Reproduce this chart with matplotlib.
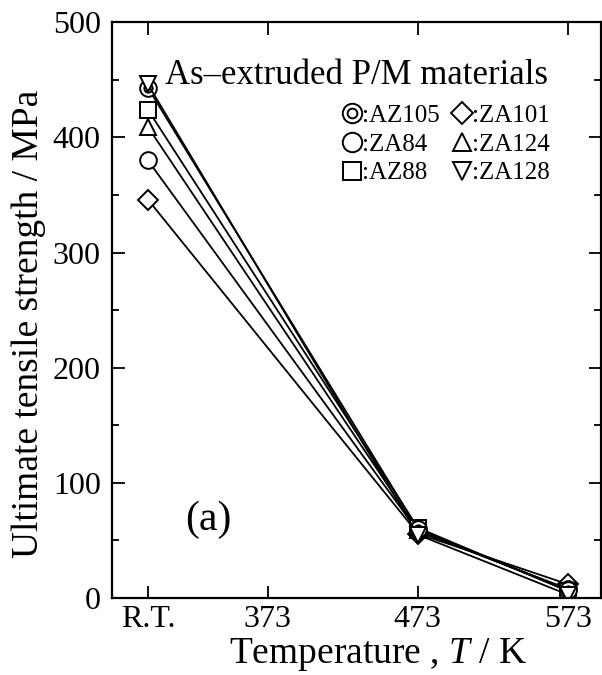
import numpy as np
import matplotlib.pyplot as plt
from matplotlib.lines import Line2D
from matplotlib.legend_handler import HandlerTuple
from matplotlib.ticker import MultipleLocator

plt.rcParams['font.family'] = ['Liberation Serif', 'DejaVu Serif']
plt.rcParams['mathtext.fontset'] = 'custom'
plt.rcParams['mathtext.it'] = 'Liberation Serif:italic'
plt.rcParams['mathtext.rm'] = 'Liberation Serif'

# test temperatures (R.T. taken as 293 K)
temps = [293, 473, 573]
tick_pos = [293, 373, 473, 573]
tick_lab = ['R.T.', '373', '473', '573']

# ultimate tensile strength, MPa
uts_az105 = [443, 60, 7]
uts_za84 = [380, 58, 8]
uts_az88 = [424, 61, 6]
uts_za101 = [346, 56, 12]
uts_za124 = [409, 59, 7]
uts_za128 = [446, 55, 3]

fig = plt.figure(figsize=(6.02, 6.75), dpi=100)
ax = fig.add_axes([0.186, 0.114, 0.812, 0.853])

lw = 1.3
ms = 12
mkw = dict(color='black', lw=lw, mfc='white', mec='black', mew=1.4, ms=ms)

ax.plot(temps, uts_za101, marker='D', **dict(mkw, ms=10))
ax.plot(temps, uts_za84, marker='o', **mkw)
ax.plot(temps, uts_za124, marker='^', **mkw)
ax.plot(temps, uts_az88, marker='s', **dict(mkw, ms=11))
ax.plot(temps, uts_az105, marker='o', **mkw)
ax.plot(temps, uts_az105, ls='none', marker='o', mfc='none', mec='black', mew=1.4, ms=6)
ax.plot(temps, uts_za128, marker='v', **mkw)

ax.set_xlim(269, 595)
ax.set_ylim(0, 500)
ax.set_xticks(tick_pos)
ax.set_xticklabels(tick_lab)
ax.yaxis.set_major_locator(MultipleLocator(100))
ax.yaxis.set_minor_locator(MultipleLocator(50))
ax.tick_params(which='both', direction='in', top=True, right=True,
               labelsize=23, width=1.3)
ax.tick_params(axis='y', pad=8)
ax.tick_params(axis='x', pad=5)
ax.tick_params(which='major', length=9)
ax.tick_params(which='minor', length=5)
for s in ax.spines.values():
    s.set_linewidth(1.6)

ax.set_xlabel('Temperature , $\\mathit{T}$ / K', fontsize=27)
ax.set_ylabel('Ultimate tensile strength / MPa', fontsize=27)
ax.xaxis.set_label_coords(0.544, -0.066)
ax.yaxis.set_label_coords(-0.135, 0.477)

ax.text(0.109, 0.908, 'As\u2013extruded P/M materials', transform=ax.transAxes,
        fontsize=25, ha='left', va='center')
ax.text(0.198, 0.136, '(a)', transform=ax.transAxes,
        fontsize=30, ha='center', va='center')

# legend, two columns
def mk(m, s=13):
    return Line2D([], [], ls='none', marker=m, mfc='white', mec='black', mew=1.4, ms=s)

dbl = (mk('o', 14), Line2D([], [], ls='none', marker='o', mfc='none', mec='black', mew=1.4, ms=7))
handles = [dbl, mk('o', 14), mk('s'), mk('D', 11), mk('^'), mk('v')]
labels = [':AZ105', ':ZA84', ':AZ88', ':ZA101', ':ZA124', ':ZA128']
leg = ax.legend(handles, labels, ncol=2, frameon=False, fontsize=18,
                loc='upper left', bbox_to_anchor=(0.435, 0.888),
                handlelength=0.8, handletextpad=0.0, columnspacing=0.5,
                labelspacing=0.25, borderpad=0.2,
                handler_map={tuple: HandlerTuple(ndivide=1, pad=0)})

fig.savefig('out.png', dpi=100)
